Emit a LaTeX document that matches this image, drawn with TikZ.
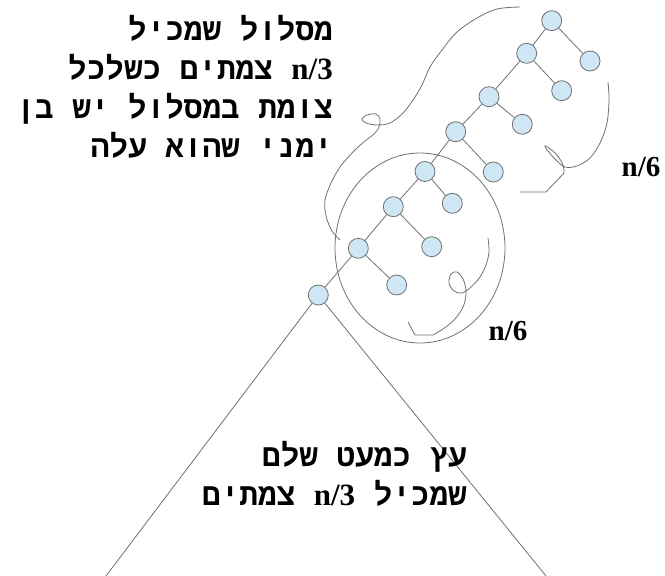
\documentclass[tikz,border=0pt]{standalone}
\usepackage{fontspec}
\usepackage{tikz}
\usetikzlibrary{positioning}
\newfontfamily\hebmono[Script=Hebrew]{Liberation Mono}
\newfontfamily\latserif{Liberation Serif}
\TeXXeTstate=1
\definecolor{nodeblue}{RGB}{207,231,245}
\definecolor{linegray}{RGB}{112,112,112}
\newcommand{\nthird}{\beginL{\latserif\bfseries n/3}\endL}

\begin{document}
\begin{tikzpicture}[x=1pt, y=-1pt,
    vert/.style={circle, draw=linegray, fill=nodeblue, minimum size=20pt, inner sep=0pt, line width=0.8pt},
    edge/.style={draw=linegray, line width=0.8pt},
    scribble/.style={draw=linegray, line width=0.8pt, smooth, tension=0.55},
    hebtext/.style={font=\hebmono\bfseries\fontsize{31}{39}\selectfont, align=right, inner sep=0pt},
    sizelabel/.style={font=\latserif\bfseries\fontsize{29}{34}\selectfont, inner sep=0pt}]
    \useasboundingbox (0,0) rectangle (665,576);

    % Spine of the path
    \node[vert] (s1) at (551.7,20.7) {};
    \node[vert] (s2) at (526.7,53.3) {};
    \node[vert] (s3) at (489,96.7) {};
    \node[vert] (s4) at (455.7,131.7) {};
    \node[vert] (s5) at (425,171.5) {};
    \node[vert] (s6) at (393.3,206.7) {};
    \node[vert] (s7) at (358.3,248.3) {};
    \node[vert] (s8) at (318.3,295) {};

    % Right leaves
    \node[vert] (r1) at (590,61) {};
    \node[vert] (r2) at (561.7,90.7) {};
    \node[vert] (r3) at (522.3,124.3) {};
    \node[vert] (r4) at (493.3,172) {};
    \node[vert] (r5) at (452.3,203.3) {};
    \node[vert] (r6) at (431.7,246.7) {};
    \node[vert] (r7) at (396.7,285) {};

    % Edges
    \draw[edge] (s1) -- (s2);
    \draw[edge] (s2) -- (s3);
    \draw[edge] (s3) -- (s4);
    \draw[edge] (s4) -- (s5);
    \draw[edge] (s5) -- (s6);
    \draw[edge] (s6) -- (s7);
    \draw[edge] (s7) -- (s8);
    \draw[edge] (s1) -- (r1);
    \draw[edge] (s2) -- (r2);
    \draw[edge] (s3) -- (r3);
    \draw[edge] (s4) -- (r4);
    \draw[edge] (s5) -- (r5);
    \draw[edge] (s6) -- (r6);
    \draw[edge] (s7) -- (r7);

    % Almost complete subtree
    \coordinate (tl) at (106,576);
    \coordinate (tr) at (546,576);
    \draw[edge] (s8) -- (tl);
    \draw[edge] (s8) -- (tr);

    % Lower part of the path
    \draw[edge] (420,248) ellipse [x radius=85pt, y radius=95pt];

    % Hand drawn outlines
    \draw[scribble] plot coordinates {(520,7) (497,9) (477,18) (457,32) (442,50) (430,67) (422,85) (413,100) (403,113) (390,123) (377,125) (366,123) (362,119) (367,115) (376,114) (380,119) (379,127) (374,134) (365,141) (353,152) (340,167) (331,183) (325,200) (326,216) (332,231) (340,240)};
    \draw[scribble] plot coordinates {(608,82) (609,100) (607,123) (600,143) (590,158) (577,166) (565,167) (556,160) (547,150) (545,146) (549,148) (557,155) (563,165) (564,173)} -- (546,192) -- (520,192);
    \draw[scribble] plot coordinates {(488,238) (489,252) (486,265) (480,277) (471,287) (462,293) (454,291) (449,283) (451,274) (457,272) (463,279) (466,290) (465,301) (461,311) (453,321) (443,329) (433,335)} -- (415,335) -- (408,322);

    % Sizes
    \node[sizelabel] (upperlabel) at (641,167) {n/6};
    \node[sizelabel] (lowerlabel) at (508,331) {n/6};

    % Texts
    \node[hebtext, anchor=north east] (pathtext) at (333,15) {\beginR מסלול שמכיל\endR\\ \beginR\nthird{} צמתים כשלכל\endR\\ \beginR צומת במסלול יש בן\endR\\ \beginR ימני שהוא עלה\endR};
    \node[hebtext, anchor=north east] (treetext) at (467,441) {\beginR עץ כמעט שלם\endR\\ \beginR שמכיל \nthird{} צמתים\endR};
\end{tikzpicture}
\end{document}
